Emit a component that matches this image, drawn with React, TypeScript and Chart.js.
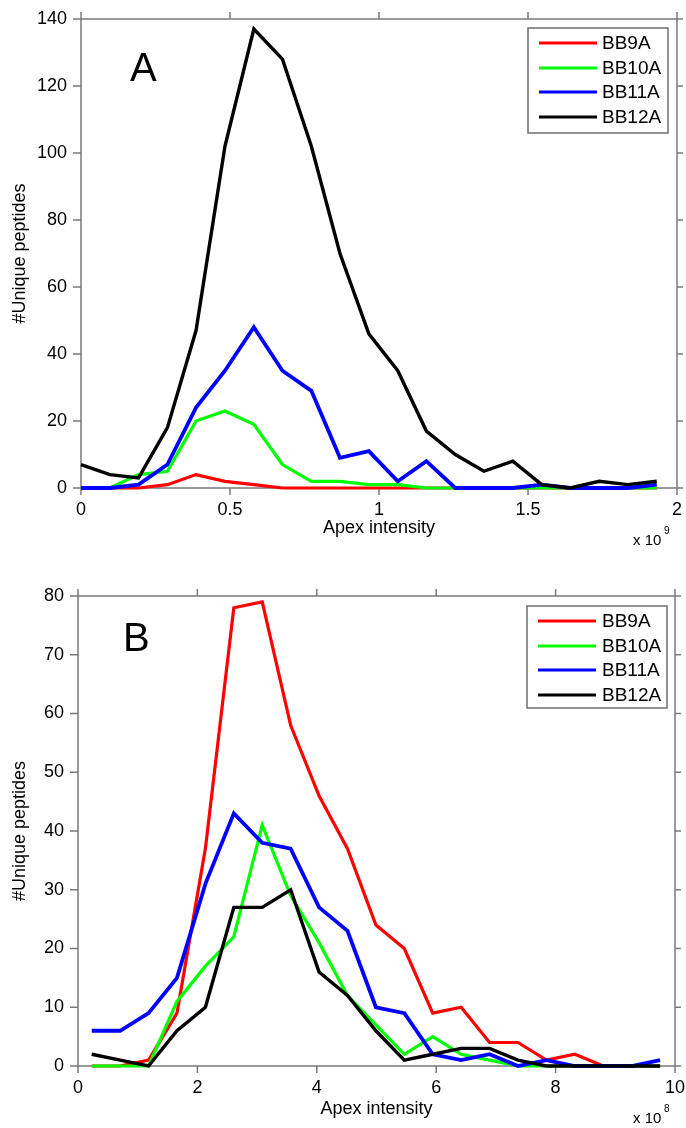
import React, { useEffect, useRef } from "react";
import { Chart, registerables } from "chart.js";

Chart.register(...registerables);

const FONT = "'Liberation Sans', Arial, Helvetica, sans-serif";

const seriesNames = ["BB9A", "BB10A", "BB11A", "BB12A"];
const seriesColors = ["#ff0000", "#00ff00", "#0000ff", "#000000"];
const seriesWidths = [3.2, 3.2, 3.8, 3.4];

// Panel A
const xA = [0, 0.097, 0.193, 0.29, 0.386, 0.483, 0.58, 0.676, 0.773, 0.869, 0.966, 1.063, 1.159, 1.256, 1.352, 1.449, 1.546, 1.642, 1.739, 1.835, 1.932];
const a_BB9A = [0, 0, 0, 1, 4, 2, 1, 0, 0, 0, 0, 0, 0, 0, 0, 0, 0, 0, 0, 0, 0];
const a_BB10A = [0, 0, 4, 5, 20, 23, 19, 7, 2, 2, 1, 1, 0, 0, 0, 0, 0, 0, 0, 0, 0];
const a_BB11A = [0, 0, 1, 7, 24, 35, 48, 35, 29, 9, 11, 2, 8, 0, 0, 0, 1, 0, 0, 0, 1];
const a_BB12A = [7, 4, 3, 18, 47, 102, 137, 128, 102, 70, 46, 35, 17, 10, 5, 8, 1, 0, 2, 1, 2];
const xTicksA = [0, 0.5, 1, 1.5, 2];
const yTicksA = [0, 20, 40, 60, 80, 100, 120, 140];

// Panel B
const xB = [0.23, 0.706, 1.182, 1.658, 2.134, 2.61, 3.086, 3.562, 4.038, 4.514, 4.99, 5.466, 5.942, 6.418, 6.894, 7.37, 7.846, 8.322, 8.798, 9.274, 9.75];
const b_BB9A = [0, 0, 1, 9, 37, 78, 79, 58, 46, 37, 24, 20, 9, 10, 4, 4, 1, 2, 0, 0, 0];
const b_BB10A = [0, 0, 0, 11, 17, 22, 41, 29, 21, 12, 7, 2, 5, 2, 1, 0, 0, 0, 0, 0, 0];
const b_BB11A = [6, 6, 9, 15, 31, 43, 38, 37, 27, 23, 10, 9, 2, 1, 2, 0, 1, 0, 0, 0, 1];
const b_BB12A = [2, 1, 0, 6, 10, 27, 27, 30, 16, 12, 6, 1, 2, 3, 3, 1, 0, 0, 0, 0, 0];
const xTicksB = [0, 2, 4, 6, 8, 10];
const yTicksB = [0, 10, 20, 30, 40, 50, 60, 70, 80];

const xTitle = "Apex intensity";
const yTitle = "#Unique peptides";

type PanelCfg = {
  width: number;
  height: number;
  area: { left: number; top: number; right: number; bottom: number };
  xs: number[];
  series: number[][];
  xTicks: number[];
  yTicks: number[];
  letter: string;
  letterX: number;
  letterY: number;
  legend: { x: number; y: number; w: number; h: number; rows: number[]; l1: number; l2: number; tx: number };
  expBase: string;
  expSup: string;
  expX: number;
  expY: number;
  supX: number;
  supY: number;
  xTitleBottomPad: number;
};

const panelA: PanelCfg = {
  width: 686,
  height: 560,
  area: { left: 81, top: 19, right: 677, bottom: 488 },
  xs: xA,
  series: [a_BB9A, a_BB10A, a_BB11A, a_BB12A],
  xTicks: xTicksA,
  yTicks: yTicksA,
  letter: "A",
  letterX: 130,
  letterY: 81,
  legend: { x: 528, y: 28, w: 140, h: 105, rows: [43, 68, 92, 117], l1: 539, l2: 597, tx: 602 },
  expBase: "x 10",
  expSup: "9",
  expX: 633,
  expY: 545,
  supX: 664,
  supY: 534,
  xTitleBottomPad: 21,
};

const panelB: PanelCfg = {
  width: 686,
  height: 568,
  area: { left: 78, top: 36, right: 675, bottom: 506 },
  xs: xB,
  series: [b_BB9A, b_BB10A, b_BB11A, b_BB12A],
  xTicks: xTicksB,
  yTicks: yTicksB,
  letter: "B",
  letterX: 123,
  letterY: 91,
  legend: { x: 527, y: 46, w: 140, h: 102, rows: [61, 86, 110, 135], l1: 538, l2: 596, tx: 602 },
  expBase: "x 10",
  expSup: "8",
  expX: 633,
  expY: 563,
  supX: 664,
  supY: 552,
  xTitleBottomPad: 8,
};

function makePlugin(cfg: PanelCfg) {
  return {
    id: "matlabFrame",
    beforeDatasetsDraw(chart: any) {
      const { ctx, chartArea } = chart;
      const { left, top, right, bottom } = chartArea;
      const xs = chart.scales.x;
      const ys = chart.scales.y;
      ctx.save();
      ctx.strokeStyle = "#7a7a7a";
      ctx.lineWidth = 1.5;
      ctx.beginPath();
      ctx.moveTo(left, top);
      ctx.lineTo(right, top);
      ctx.moveTo(left, bottom);
      ctx.lineTo(right, bottom);
      ctx.moveTo(left, top);
      ctx.lineTo(left, bottom);
      ctx.moveTo(right, top);
      ctx.lineTo(right, bottom);
      for (const t of xs.ticks) {
        const px = xs.getPixelForValue(t.value);
        ctx.moveTo(px, bottom);
        ctx.lineTo(px, bottom + 7);
        ctx.moveTo(px, top);
        ctx.lineTo(px, top - 7);
      }
      for (const t of ys.ticks) {
        const py = ys.getPixelForValue(t.value);
        ctx.moveTo(left, py);
        ctx.lineTo(left - 8, py);
        ctx.moveTo(right, py);
        ctx.lineTo(right + 6, py);
      }
      ctx.stroke();
      ctx.restore();
    },
    afterDraw(chart: any) {
      const { ctx } = chart;
      ctx.save();
      ctx.fillStyle = "#000";
      ctx.font = `40px ${FONT}`;
      ctx.textBaseline = "alphabetic";
      ctx.textAlign = "left";
      ctx.fillText(cfg.letter, cfg.letterX, cfg.letterY);
      ctx.font = `15px ${FONT}`;
      ctx.fillText(cfg.expBase, cfg.expX, cfg.expY);
      ctx.font = `10px ${FONT}`;
      ctx.fillText(cfg.expSup, cfg.supX, cfg.supY);
      const lg = cfg.legend;
      ctx.fillStyle = "#ffffff";
      ctx.fillRect(lg.x, lg.y, lg.w, lg.h);
      ctx.strokeStyle = "#6e6e6e";
      ctx.lineWidth = 1.5;
      ctx.strokeRect(lg.x, lg.y, lg.w, lg.h);
      ctx.font = `19px ${FONT}`;
      ctx.textBaseline = "middle";
      seriesNames.forEach((name, i) => {
        const y = lg.rows[i];
        ctx.strokeStyle = seriesColors[i];
        ctx.lineWidth = 3.2;
        ctx.beginPath();
        ctx.moveTo(lg.l1, y);
        ctx.lineTo(lg.l2, y);
        ctx.stroke();
        ctx.fillStyle = "#000";
        ctx.fillText(name, lg.tx, y + 1);
      });
      ctx.restore();
    },
  };
}

function Panel({ cfg }: { cfg: PanelCfg }) {
  const ref = useRef<HTMLCanvasElement | null>(null);
  useEffect(() => {
    if (!ref.current) return;
    const a = cfg.area;
    const datasets = cfg.series.map((vals, i) => ({
      label: seriesNames[i],
      data: cfg.xs.map((x, k) => ({ x, y: vals[k] })),
      borderColor: seriesColors[i],
      backgroundColor: seriesColors[i],
      borderWidth: seriesWidths[i],
      pointRadius: 0,
      tension: 0,
      fill: false,
      clip: false as any,
      order: 3 - i,
    }));
    const chart = new Chart(ref.current, {
      type: "line",
      data: { datasets },
      options: {
        animation: false,
        responsive: false,
        devicePixelRatio: 1,
        events: [],
        layout: { padding: { left: 0, top: a.top, right: cfg.width - a.right, bottom: 0 } },
        plugins: { legend: { display: false }, tooltip: { enabled: false } },
        scales: {
          x: {
            type: "linear",
            min: cfg.xTicks[0],
            max: cfg.xTicks[cfg.xTicks.length - 1],
            afterBuildTicks: (s: any) => {
              s.ticks = cfg.xTicks.map((v) => ({ value: v }));
            },
            afterFit: (s: any) => {
              s.height = cfg.height - a.bottom;
              s.paddingLeft = 0;
              s.paddingRight = 0;
            },
            grid: { display: false, drawTicks: false },
            border: { display: false },
            ticks: {
              color: "#000",
              font: { family: FONT, size: 18 },
              padding: 11,
              maxRotation: 0,
              autoSkip: false,
              callback: (v: any) => String(v),
            },
            title: { display: true, text: xTitle, color: "#000", font: { family: FONT, size: 18 }, padding: { top: 0, bottom: cfg.xTitleBottomPad } },
          },
          y: {
            type: "linear",
            min: cfg.yTicks[0],
            max: cfg.yTicks[cfg.yTicks.length - 1],
            afterBuildTicks: (s: any) => {
              s.ticks = cfg.yTicks.map((v) => ({ value: v }));
            },
            afterFit: (s: any) => {
              s.width = a.left;
              s.paddingTop = 0;
              s.paddingBottom = 0;
            },
            grid: { display: false, drawTicks: false },
            border: { display: false },
            ticks: { color: "#000", font: { family: FONT, size: 18 }, padding: 14, autoSkip: false, callback: (v: any) => String(v) },
            title: { display: true, text: yTitle, color: "#000", font: { family: FONT, size: 18 }, padding: { top: 9, bottom: 0 } },
          },
        },
      },
      plugins: [makePlugin(cfg)],
    } as any);
    return () => chart.destroy();
  }, [cfg]);
  return <canvas ref={ref} width={cfg.width} height={cfg.height} style={{ display: "block", width: cfg.width, height: cfg.height }} />;
}

export default function App() {
  return (
    <div style={{ position: "absolute", left: 0, top: 0, width: 686, height: 1128, background: "#fff" }}>
      <Panel cfg={panelA} />
      <Panel cfg={panelB} />
    </div>
  );
}
